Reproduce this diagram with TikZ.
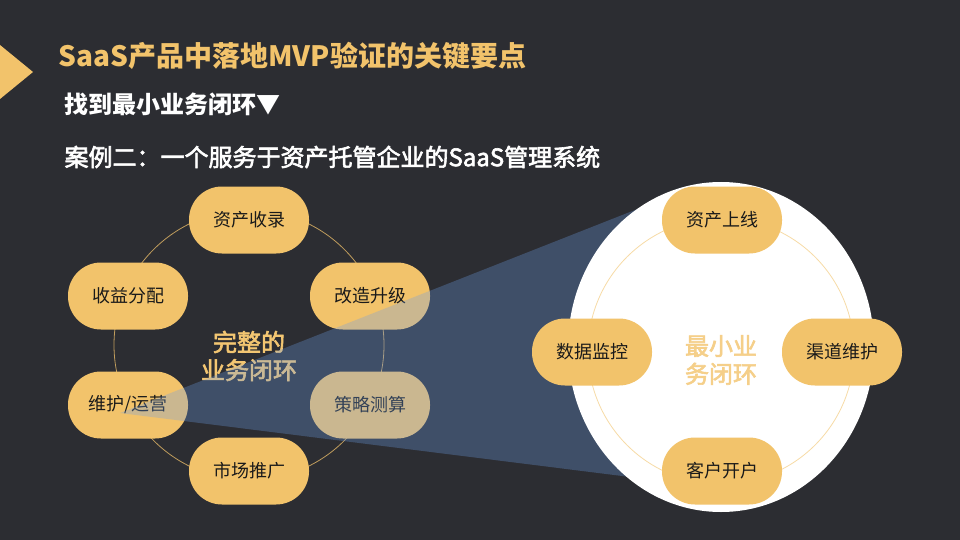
\documentclass[tikz,border=0pt]{standalone}
\usepackage{fontspec}
\setmainfont{Noto Sans CJK SC}
\newfontfamily\mediumcjk{Noto Sans CJK SC}[FakeBold=2.5]
\definecolor{bgdark}{HTML}{2C2D32}
\definecolor{gold}{HTML}{F2C36B}
\definecolor{ink}{HTML}{1A1A1A}
\definecolor{haze}{HTML}{6E9EE6}
\usetikzlibrary{positioning, calc}
\tikzset{
  pill/.style={
    fill=gold, rounded corners=33pt, inner sep=0pt,
    minimum width=120pt, minimum height=67pt,
    font=\fontsize{18}{20}\selectfont, text=ink, align=center
  },
  ring/.style={draw=#1, line width=0.8pt},
  ring/.default=gold!75!bgdark,
  heading/.style={anchor=west, font=\bfseries\fontsize{#1}{#1}\selectfont},
  heading/.default=24,
  core/.style={font=\mediumcjk\fontsize{24}{28}\selectfont, align=center, text=#1},
  core/.default=gold,
}

\begin{document}
\begin{tikzpicture}[x=1pt, y=-1pt]
  % Canvas
  \fill[bgdark] (0,0) rectangle (960,540);
  \useasboundingbox (0,0) rectangle (960,540);
  \fill[gold] (0,45) -- (33,72) -- (0,99) -- cycle;

  % Headings
  \node[heading=28, text=gold] (title) at (55,56) {SaaS产品中落地MVP验证的关键要点};
  \node[heading, text=white] (sub) at (61,104) {找到最小业务闭环▼};
  \node[heading, text=white, font=\mediumcjk\fontsize{24}{24}\selectfont] (case) at (61,157) {案例二：一个服务于资产托管企业的SaaS管理系统};

  % Full loop
  \draw[ring] (249,345) circle (135);
  \node[pill] (intake) at (249,220) {资产收录};
  \node[pill] (upgrade) at (370,296) {改造升级};
  \node[pill] (calc) at (370,405) {策略测算};
  \node[pill] (market) at (249,471) {市场推广};
  \node[pill] (ops) at (128,405) {维护/运营};
  \node[pill] (share) at (128,296) {收益分配};
  \node[core, text=gold!95!white] (full) at (249,356) {完整的\\业务闭环};

  % Projection
  \coordinate (apex) at (120,413);
  \fill[haze, fill opacity=0.3] (apex) -- (640,208) -- (721,347) -- (630,477) -- cycle;

  % Minimal loop
  \fill[white] (721,347) ellipse [x radius=153, y radius=165];
  \draw[ring=gold!60!white] (721,351) circle (133);
  \node[pill] (online) at (722,220) {资产上线};
  \node[pill] (channel) at (842,352) {渠道维护};
  \node[pill] (account) at (722,471) {客户开户};
  \node[pill] (monitor) at (592,352) {数据监控};
  \node[core, text=gold!80!white] (mini) at (721,360) {最小业\\务闭环};
\end{tikzpicture}
\end{document}
